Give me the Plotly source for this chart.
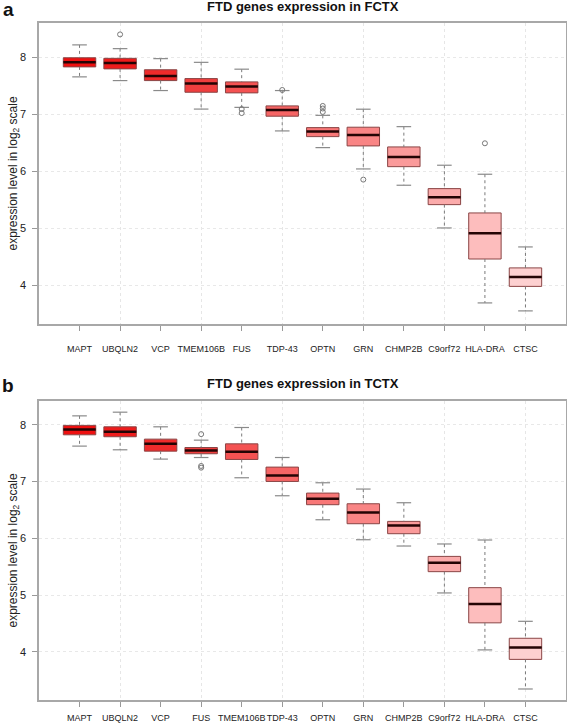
import plotly.graph_objects as go

# ---------------- data ----------------
genes_a = ["MAPT", "UBQLN2", "VCP", "TMEM106B", "FUS", "TDP-43", "OPTN", "GRN",
           "CHMP2B", "C9orf72", "HLA-DRA", "CTSC"]
lo_a = [7.655, 7.59, 7.415, 7.09, 7.12, 6.707, 6.414, 6.04, 5.754, 5.005, 3.69, 3.55]
q1_a = [7.83, 7.795, 7.59, 7.385, 7.374, 6.965, 6.607, 6.444, 6.08, 5.414, 4.46, 3.98]
med_a = [7.91, 7.90, 7.67, 7.54, 7.485, 7.075, 6.695, 6.637, 6.25, 5.544, 4.912, 4.146]
q3_a = [7.99, 7.98, 7.78, 7.625, 7.567, 7.146, 6.765, 6.772, 6.426, 5.695, 5.268, 4.304]
hi_a = [8.216, 8.15, 7.975, 7.91, 7.79, 7.415, 6.98, 7.088, 6.782, 6.105, 5.947, 4.672]
out_gene_a = ["UBQLN2", "FUS", "FUS", "TDP-43", "OPTN", "OPTN", "OPTN", "GRN", "HLA-DRA"]
out_val_a = [8.40, 7.09, 7.02, 7.425, 7.145, 7.10, 7.04, 5.853, 6.49]

genes_b = ["MAPT", "UBQLN2", "VCP", "FUS", "TMEM106B", "TDP-43", "OPTN", "GRN",
           "CHMP2B", "C9orf72", "HLA-DRA", "CTSC"]
lo_b = [7.625, 7.56, 7.396, 7.424, 7.067, 6.75, 6.327, 5.975, 5.864, 5.037, 4.033, 3.344]
q1_b = [7.824, 7.79, 7.536, 7.49, 7.39, 7.002, 6.592, 6.257, 6.081, 5.412, 4.51, 3.866]
med_b = [7.918, 7.88, 7.665, 7.548, 7.525, 7.107, 6.697, 6.456, 6.227, 5.570, 4.843, 4.074]
q3_b = [7.99, 7.965, 7.748, 7.60, 7.665, 7.255, 6.797, 6.609, 6.298, 5.681, 5.13, 4.238]
hi_b = [8.158, 8.223, 7.965, 7.73, 7.953, 7.424, 6.979, 6.868, 6.627, 5.90, 5.97, 4.537]
out_gene_b = ["FUS", "FUS", "FUS"]
out_val_b = [7.836, 7.275, 7.245]

yticks = [4, 5, 6, 7, 8]

# ---------------- style ----------------
fills = ["#EE1010", "#EE1C1C", "#EF2B2B", "#F03E3E", "#F45252", "#F66565",
         "#F87777", "#F98585", "#FA9A9A", "#FBABAB", "#FDBDBD", "#FDD0D0"]
border = "#8a4545"
FONT = "Liberation Sans, Arial, sans-serif"
W, H = 567, 724
ML, MR, MT, MB = 39, 1, 23, 24
PW, PH = W - ML - MR, H - MT - MB


def px_x(px):
    return (px - ML) / PW


def px_y(py):
    return (H - MB - py) / PH


fig = go.Figure()


def add_panel(genes, lo, q1, med, q3, hi, og, ov, xa, ya):
    pos = list(range(1, len(genes) + 1))
    wx, wy, cx, cy, mx, my = [], [], [], [], [], []
    for i, p in enumerate(pos):
        fig.add_trace(go.Box(
            x=[p], q1=[q1[i]], median=[med[i]], q3=[q3[i]],
            lowerfence=[q1[i]], upperfence=[q3[i]], width=0.8,
            fillcolor=fills[i], line=dict(color=border, width=1),
            boxpoints=False, showlegend=False, xaxis=xa, yaxis=ya,
            whiskerwidth=0))
        wx += [p, p, None, p, p, None]
        wy += [hi[i], q3[i], None, q1[i], lo[i], None]
        cx += [p - 0.18, p + 0.18, None, p - 0.18, p + 0.18, None]
        cy += [hi[i], hi[i], None, lo[i], lo[i], None]
        mx += [p - 0.4, p + 0.4, None]
        my += [med[i], med[i], None]
    fig.add_trace(go.Scatter(x=wx, y=wy, mode="lines", xaxis=xa, yaxis=ya,
                             line=dict(color="#7a7a7a", width=1, dash="dot"),
                             showlegend=False, hoverinfo="skip"))
    fig.add_trace(go.Scatter(x=cx, y=cy, mode="lines", xaxis=xa, yaxis=ya,
                             line=dict(color="#8a8a8a", width=1.2),
                             showlegend=False, hoverinfo="skip"))
    fig.add_trace(go.Scatter(x=mx, y=my, mode="lines", xaxis=xa, yaxis=ya,
                             line=dict(color="#240404", width=2.5),
                             showlegend=False, hoverinfo="skip"))
    ox = [genes.index(g) + 1 for g in og]
    fig.add_trace(go.Scatter(x=ox, y=ov, mode="markers", xaxis=xa, yaxis=ya,
                             marker=dict(symbol="circle-open", size=5,
                                         color="#777777", line=dict(width=1)),
                             showlegend=False, hoverinfo="skip"))
    return pos


pos_a = add_panel(genes_a, lo_a, q1_a, med_a, q3_a, hi_a, out_gene_a, out_val_a, "x", "y")
pos_b = add_panel(genes_b, lo_b, q1_b, med_b, q3_b, hi_b, out_gene_b, out_val_b, "x2", "y2")

top_a, bot_a = 23, 324
top_b, bot_b = 401, 700


def xaxis_cfg(pos, labels, anchor, standoff):
    return dict(range=[0, 13], tickmode="array", tickvals=pos, ticktext=labels,
                tickangle=0, automargin=False,
                ticks="outside", ticklen=5, tickcolor="#999999", showgrid=False,
                zeroline=False, showline=True, mirror=True, linecolor="#a8a8a8",
                linewidth=1.5, anchor=anchor, ticklabelstandoff=standoff,
                tickfont=dict(family=FONT, size=9, color="#222222"),
                minor=dict(tickmode="array", tickvals=[2, 4, 6, 8, 10, 12],
                           showgrid=True, gridcolor="#e6e6e6", griddash="dot",
                           gridwidth=1, ticklen=0))


def yaxis_cfg(rng, dom, anchor):
    return dict(range=rng, domain=dom, tickmode="array", tickvals=yticks,
                automargin=False,
                ticks="outside", ticklen=5, tickcolor="#999999",
                showgrid=True, gridcolor="#e8e8e8", griddash="dot", gridwidth=1,
                zeroline=False, showline=True, mirror=True, linecolor="#a8a8a8",
                linewidth=1.5, anchor=anchor, ticklabelstandoff=4,
                tickfont=dict(family=FONT, size=11, color="#222222"))


fig.update_layout(
    width=W, height=H, plot_bgcolor="white", paper_bgcolor="white",
    margin=dict(l=ML, r=MR, t=MT, b=MB), showlegend=False, boxmode="overlay",
    xaxis=xaxis_cfg(pos_a, genes_a, "y", 10),
    yaxis=yaxis_cfg([3.32, 8.60], [px_y(bot_a), px_y(top_a)], "x"),
    xaxis2=xaxis_cfg(pos_b, genes_b, "y2", 3),
    yaxis2=yaxis_cfg([3.15, 8.42], [px_y(bot_b), px_y(top_b)], "x2"),
)

ann = []
for title, letter, ty, ly, top, bot in [
        ("FTD genes expression in FCTX", "a", 7, 10, top_a, bot_a),
        ("FTD genes expression in TCTX", "b", 383, 385, top_b, bot_b)]:
    ann.append(dict(text="<b>" + title + "</b>", xref="paper", yref="paper",
                    x=0.5, y=px_y(ty), xanchor="center", yanchor="middle",
                    showarrow=False, font=dict(family=FONT, size=13, color="#111111")))
    ann.append(dict(text="<b>" + letter + "</b>", xref="paper", yref="paper",
                    x=px_x(8), y=px_y(ly), xanchor="center", yanchor="middle",
                    showarrow=False, font=dict(family=FONT, size=19, color="#111111")))
    ann.append(dict(text="expression level in log<sub>2</sub> scale", xref="paper",
                    yref="paper", x=px_x(13), y=px_y((top + bot) / 2),
                    xanchor="center", yanchor="middle", textangle=-90,
                    showarrow=False, font=dict(family=FONT, size=12, color="#222222")))
fig.update_layout(annotations=ann)

fig.write_html("out.html", config={"displayModeBar": False},
               post_script="document.body.style.margin='0';document.body.style.padding='0';")
